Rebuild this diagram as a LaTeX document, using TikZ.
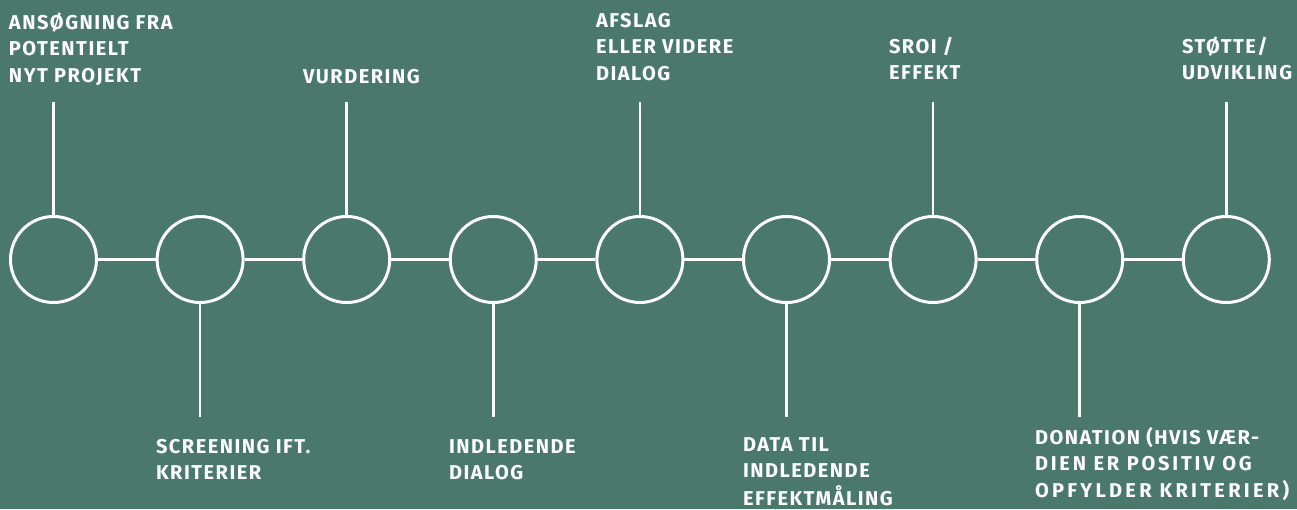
\documentclass[tikz,border=0pt]{standalone}
\usepackage{fontspec}
\setmainfont{Fira Sans}[LetterSpace=7.5]
\definecolor{bg}{HTML}{4A786A}
\tikzset{
  stage/.style={circle, draw=white, line width=3pt, minimum size=86pt, inner sep=0pt},
  link/.style={draw=white, line width=2.6pt},
  lbl/.style={text=white, anchor=base west, inner sep=0pt, outer sep=0pt,
    font=\fontsize{20}{26.5}\selectfont\bfseries}
}
\newcommand{\lines}[1]{\begin{tabular}[t]{@{}l@{}}#1\end{tabular}}
\begin{document}
\begin{tikzpicture}[x=1pt,y=-1pt]
\fill[bg] (0,0) rectangle (1297,509);
\useasboundingbox (0,0) rectangle (1297,509);
% circles
\foreach \i in {1,...,9} {
  \node[stage] (c\i) at ({53.5+146.6*(\i-1)},259.5) {};
}
\foreach \i [evaluate=\i as \j using int(\i+1)] in {1,...,8} {
  \draw[link] (c\i) -- (c\j);
}
% top and bottom stubs
\foreach \i in {1,3,5,7,9} {
  \coordinate (t\i) at ({53.5+146.6*(\i-1)},102);
  \draw[link] (t\i) -- (c\i);
}
\foreach \i in {2,4,6,8} {
  \coordinate (b\i) at ({53.5+146.6*(\i-1)},417);
  \draw[link] (c\i) -- (b\i);
}
% labels
\node[lbl] (l1) at (9,29) {\lines{ANSØGNING FRA\\POTENTIELT\\NYT PROJEKT}};
\node[lbl] (l2) at (156,453) {\lines{SCREENING IFT.\\KRITERIER}};
\node[lbl] (l3) at (303,83) {\lines{VURDERING}};
\node[lbl] (l4) at (449,453) {\lines{INDLEDENDE\\DIALOG}};
\node[lbl] (l5) at (596,27) {\lines{AFSLAG\\ELLER VIDERE\\DIALOG}};
\node[lbl] (l6) at (743,451) {\lines{DATA TIL\\INDLEDENDE\\EFFEKTMÅLING}};
\node[lbl] (l7) at (889,53) {\lines{SROI /\\EFFEKT}};
\node[lbl] (l8) at (1035,444) {\lines{DONATION (HVIS VÆR-\\{\addfontfeature{LetterSpace=14}DIEN ER POSITIV OG}\\{\addfontfeature{LetterSpace=16.5}OPFYLDER KRITERIER)}}};
\node[lbl] (l9) at (1182,53) {\lines{STØTTE/\\UDVIKLING}};
\end{tikzpicture}
\end{document}
